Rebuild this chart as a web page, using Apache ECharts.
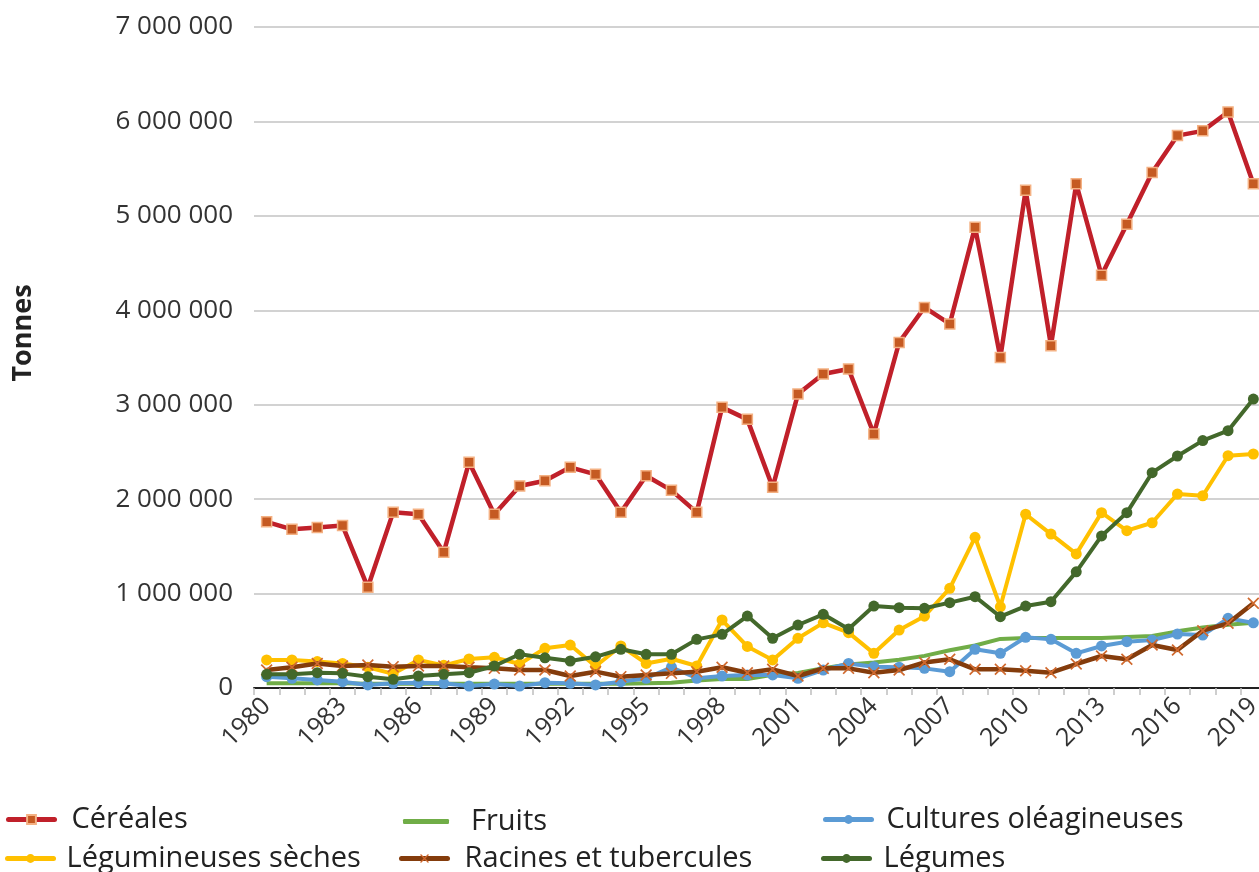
<!DOCTYPE html>
<html>
<head>
<meta charset="utf-8">
<script src="https://cdn.jsdelivr.net/npm/echarts@6/dist/echarts.min.js"></script>
<style>
  html, body { margin: 0; padding: 0; background: #fff; }
  #chart { width: 1259px; height: 872px; }
</style>
</head>
<body>
<div id="chart"></div>
<script>
// années 1980 - 2019
var years = [];
for (var y = 1980; y <= 2019; y++) years.push(String(y));

var yTicks = [0, 1000000, 2000000, 3000000, 4000000, 5000000, 6000000, 7000000];

var cereales = [1760000,1680000,1700000,1720000,1066000,1860000,1840000,1437000,2390000,1840000,
  2140000,2195000,2337000,2263000,1860000,2248000,2093000,1860000,2972000,2845000,
  2125000,3113000,3325000,3378000,2690000,3660000,4030000,3855000,4880000,3500000,
  5270000,3625000,5340000,4370000,4910000,5460000,5850000,5900000,6100000,5340000];

var fruits = [50000,50000,50000,50000,45000,45000,45000,45000,45000,45000,
  45000,45000,45000,45000,45000,50000,55000,80000,95000,95000,
  140000,160000,210000,250000,270000,300000,340000,400000,450000,520000,
  530000,530000,530000,530000,540000,550000,600000,640000,670000,690000];

var oleagineuses = [120000,103000,85000,67000,32000,50000,56000,50000,20000,42000,
  20000,56000,50000,32000,67000,103000,220000,103000,127000,138000,
  138000,103000,190000,260000,226000,220000,208000,173000,410000,367000,
  537000,515000,367000,445000,490000,508000,572000,560000,738000,690000];

var legumineuses = [297000,297000,280000,260000,220000,150000,297000,240000,307000,325000,
  254000,420000,455000,230000,445000,260000,310000,233000,720000,440000,
  297000,526000,690000,586000,367000,614000,760000,1056000,1596000,860000,
  1840000,1630000,1420000,1857000,1666000,1750000,2054000,2036000,2460000,2478000];

var racines = [190000,220000,260000,233000,244000,226000,233000,233000,220000,208000,
  190000,190000,127000,173000,120000,138000,155000,173000,220000,162000,
  198000,127000,208000,208000,162000,190000,270000,304000,198000,198000,
  183000,162000,254000,339000,304000,455000,402000,607000,685000,897000];

var legumes = [145000,145000,162000,155000,120000,92000,127000,145000,162000,233000,
  357000,320000,286000,330000,410000,357000,357000,515000,568000,762000,
  526000,667000,780000,625000,868000,850000,844000,904000,967000,755000,
  868000,914000,1230000,1610000,1857000,2280000,2457000,2620000,2725000,3060000];

var font = '"Open Sans", "Noto Sans", sans-serif';
var crossPath = 'path://M0,1L1,0L5,4L9,0L10,1L6,5L10,9L9,10L5,6L1,10L0,9L4,5Z';

function fmt(v) {
  return String(v).replace(/\B(?=(\d{3})+(?!\d))/g, ' ');
}

// une légende par entrée, placée comme dans l'original
function legendAt(name, left, top, gap, extra) {
  var l = {
    data: [name],
    left: left,
    top: top,
    padding: 0,
    itemWidth: 46,
    itemHeight: 11,
    lineStyle: { width: 5, cap: 'round' },
    textStyle: { fontFamily: font, fontSize: 29, color: '#222', padding: [0, 0, 0, gap - 5] }
  };
  if (extra) Object.assign(l, extra);
  return l;
}

var chart = echarts.init(document.getElementById('chart'));
chart.setOption({
  backgroundColor: '#fff',
  animation: false,
  grid: { left: 254, top: 27, width: 1012, height: 661, containLabel: false, outerBoundsMode: 'none' },
  legend: [
    legendAt('Céréales', 6, 805, 17),
    legendAt('Fruits', 403, 807, 22, { icon: 'roundRect', itemHeight: 5 }),
    legendAt('Cultures oléagineuses', 823, 805, 15),
    legendAt('Légumineuses sèches', 5, 844, 13),
    legendAt('Racines et tubercules', 399, 844, 17),
    legendAt('Légumes', 821, 844, 14)
  ],
  graphic: [{
    type: 'text',
    x: 23, y: 333,
    rotation: Math.PI / 2,
    style: {
      text: 'Tonnes',
      font: 'bold 27px ' + font,
      fill: '#222',
      textAlign: 'center',
      textVerticalAlign: 'middle'
    }
  }],
  xAxis: {
    type: 'category',
    data: years,
    boundaryGap: true,
    axisLine: { lineStyle: { color: '#222', width: 2 } },
    axisTick: { show: true, interval: 0, length: 7, lineStyle: { color: '#bfbfbf', width: 1.5 } },
    axisLabel: {
      interval: 2,
      rotate: 45,
      margin: 14,
      fontFamily: font,
      fontSize: 25,
      color: '#333'
    }
  },
  yAxis: {
    type: 'value',
    min: yTicks[0],
    max: yTicks[yTicks.length - 1],
    interval: 1000000,
    axisLine: { show: false },
    axisTick: { show: false },
    splitLine: { lineStyle: { color: '#c3c3c3', width: 1.5 } },
    axisLabel: {
      margin: 21,
      fontFamily: font,
      fontSize: 26,
      color: '#333',
      formatter: fmt
    }
  },
  series: [
    {
      name: 'Fruits', type: 'line', data: fruits,
      symbol: 'none', z: 2,
      lineStyle: { color: '#70AD47', width: 4 },
      itemStyle: { color: '#70AD47' }
    },
    {
      name: 'Cultures oléagineuses', type: 'line', data: oleagineuses,
      symbol: 'circle', symbolSize: 11, z: 3,
      lineStyle: { color: '#5B9BD5', width: 4 },
      itemStyle: { color: '#5B9BD5' }
    },
    {
      name: 'Racines et tubercules', type: 'line', data: racines,
      symbol: crossPath, symbolSize: 12, z: 4,
      lineStyle: { color: '#843C0C', width: 4.5 },
      itemStyle: { color: '#D0692E' }
    },
    {
      name: 'Légumineuses sèches', type: 'line', data: legumineuses,
      symbol: 'circle', symbolSize: 11, z: 3,
      lineStyle: { color: '#FFC000', width: 4 },
      itemStyle: { color: '#FFC000' }
    },
    {
      name: 'Légumes', type: 'line', data: legumes,
      symbol: 'circle', symbolSize: 11, z: 5,
      lineStyle: { color: '#43682B', width: 4 },
      itemStyle: { color: '#43682B' }
    },
    {
      name: 'Céréales', type: 'line', data: cereales,
      symbol: 'rect', symbolSize: 10, z: 6,
      lineStyle: { color: '#C0202A', width: 4.5 },
      itemStyle: { color: '#C55A22', borderColor: '#F4B183', borderWidth: 1.5 }
    }
  ]
});
</script>
</body>
</html>
